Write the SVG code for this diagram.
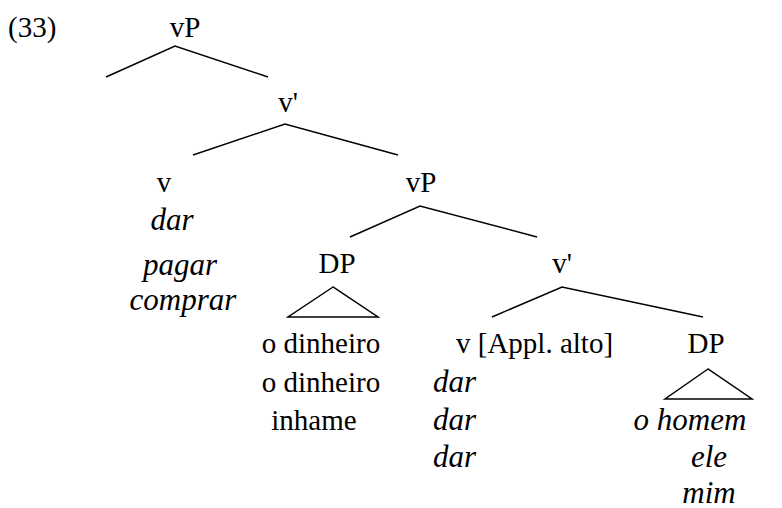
<svg xmlns="http://www.w3.org/2000/svg" width="782" height="508" viewBox="0 0 782 508">
  <style>
    .rm { font-size: 29px; }
    .it { font-style: italic; font-size: 31px; }
    .mid { text-anchor: middle; }
    .edge { stroke: #000; stroke-width: 1.5; fill: none; }
  </style>
  <rect width="782" height="508" fill="#fff"/>
  <text class="rm" x="8" y="37" font-family="Liberation Serif" font-size="30">(33)</text>

  <g id="vP-top"><text class="rm mid" x="185" y="37" font-family="Liberation Serif">vP</text></g>
  <g id="v-bar-top"><text class="rm mid" x="288" y="112" font-family="Liberation Serif">v'</text></g>
  <g id="v-head">
    <text class="rm mid" x="164" y="192" font-family="Liberation Serif">v</text>
    <text class="mid it" x="172" y="230" font-family="Liberation Serif">dar</text>
    <text class="mid it" x="180" y="275" font-family="Liberation Serif">pagar</text>
    <text class="mid it" x="183" y="310" font-family="Liberation Serif">comprar</text>
  </g>
  <g id="vP-low"><text class="rm mid" x="421" y="192" font-family="Liberation Serif">vP</text></g>
  <g id="DP-object">
    <text class="rm mid" x="337" y="273" font-family="Liberation Serif">DP</text>
    <polygon class="edge" points="333,287 288,317 378,317"/>
    <text class="rm mid" x="321" y="353" font-family="Liberation Serif">o dinheiro</text>
    <text class="rm mid" x="321" y="392" font-family="Liberation Serif">o dinheiro</text>
    <text class="rm mid" x="314" y="430" font-family="Liberation Serif">inhame</text>
  </g>
  <g id="v-bar-low"><text class="rm mid" x="562" y="273" font-family="Liberation Serif">v'</text></g>
  <g id="v-appl">
    <text class="rm" x="456" y="353" font-family="Liberation Serif">v [Appl. alto]</text>
    <text class="it" x="433" y="392" font-family="Liberation Serif">dar</text>
    <text class="it" x="433" y="430" font-family="Liberation Serif">dar</text>
    <text class="it" x="433" y="467" font-family="Liberation Serif">dar</text>
  </g>
  <g id="DP-goal">
    <text class="rm mid" x="706" y="353" font-family="Liberation Serif">DP</text>
    <polygon class="edge" points="708,369 665,399 752,399"/>
    <text class="mid it" x="690" y="430" font-family="Liberation Serif">o homem</text>
    <text class="mid it" x="709" y="467" font-family="Liberation Serif">ele</text>
    <text class="mid it" x="709" y="503" font-family="Liberation Serif">mim</text>
  </g>

  <g id="connectors">
    <polyline class="edge" points="106,77 175,46 268,77"/>
    <polyline class="edge" points="193,155 285,124 398,155"/>
    <polyline class="edge" points="350,237 420,206 537,237"/>
    <polyline class="edge" points="492,317 562,287 703,317"/>
  </g>
</svg>
